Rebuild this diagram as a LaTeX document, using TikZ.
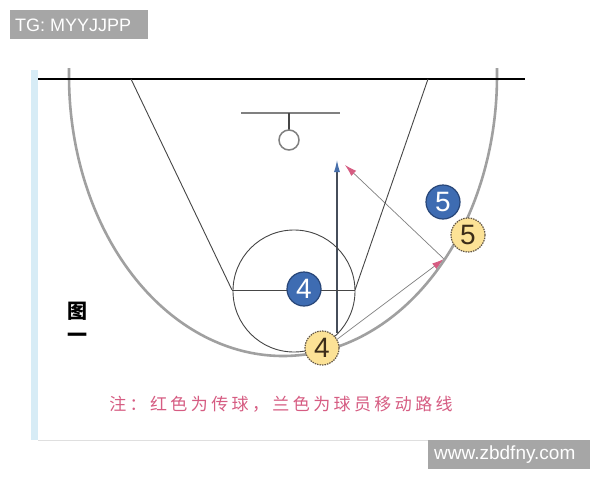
\documentclass[tikz,border=0pt]{standalone}
\usepackage{fontspec}
\setmainfont{Liberation Sans}
\newfontfamily\cjk{Noto Sans CJK SC}
\usetikzlibrary{arrows.meta}
\pgfdeclarelayer{bg}
\pgfdeclarelayer{back}
\pgfsetlayers{bg,back,main}
\definecolor{arcgray}{RGB}{160,160,160}
\definecolor{linegray}{RGB}{70,70,70}
\definecolor{pblue}{RGB}{62,108,178}
\definecolor{pbluedark}{RGB}{40,70,120}
\definecolor{pyellow}{RGB}{252,226,150}
\definecolor{ptext}{RGB}{60,45,25}
\definecolor{pink}{RGB}{214,92,130}
\definecolor{mvblue}{RGB}{70,110,170}
\definecolor{wmgray}{RGB}{166,166,166}
\definecolor{edgeblue}{RGB}{215,236,246}
\begin{document}
\begin{tikzpicture}[x=1pt,y=-1pt,
  court/.style={draw=linegray,line width=0.9pt},
  bluep/.style={circle,fill=pblue,draw=pbluedark,line width=1.2pt,minimum size=34pt,inner sep=0pt,text=white,font=\fontsize{28}{28}\selectfont},
  yelp/.style={circle,fill=pyellow,draw=ptext!80,dashed,dash pattern=on 1.5pt off 1pt,line width=1.2pt,minimum size=34pt,inner sep=0pt,text=ptext,font=\fontsize{28}{28}\selectfont},
  passline/.style={draw=gray,line width=0.7pt,-{Latex[length=12pt,width=7pt,color=pink]}},
  moveline/.style={draw=linegray!80!mvblue,line width=1.1pt,-{Latex[length=12pt,width=6pt,color=mvblue]}},
  wm/.style={fill=wmgray,text=white,inner sep=0pt,font=\fontsize{18}{18}\selectfont}
]
\useasboundingbox (0,0) rectangle (600,480);
\begin{pgfonlayer}{bg}
\fill[white] (0,0) rectangle (600,480);
\end{pgfonlayer}
% frame of the scanned picture
\fill[edgeblue] (31,70) rectangle (38,440);
\draw[gray!25,line width=1pt] (38,440) -- (535,440);
% three point arc
\draw[arcgray,line width=2.6pt] (69,68) -- (69,76)
  plot[domain=180:0,samples=90,smooth] ({283+214*cos(\x)},{76+280*sin(\x)})
  -- (497,68);
% baseline
\draw[black,line width=1.1pt] (38,79) -- (525,79);
% lane
\draw[court] (131,79) -- (232,290);
\draw[court] (428,79) -- (355,290);
\draw[court] (232,290) -- (355,290);
\draw[court] (294,291) circle[radius=61];
% backboard and rim
\draw[gray,line width=2pt] (241,113) -- (340,113);
\draw[linegray,line width=1.2pt] (289,113) -- (289,130);
\draw[gray,line width=1.5pt] (289,140) circle[radius=10];
% players
\node[yelp] (y4) at (322,348) {4};
\node[yelp] (y5) at (468,235) {5};
\node[bluep] (b4) at (304,289) {4};
\node[bluep] (b5) at (443,202) {5};
\coordinate (recv) at (444,259);
\coordinate (passend) at (345,165);
\coordinate (mvstart) at (337,333);
\coordinate (mvend) at (337,160);
\begin{pgfonlayer}{back}
\draw[moveline] (mvstart) -- (mvend);
\draw[passline] (y4.30) -- (recv);
\draw[passline] (recv) -- (passend);
\end{pgfonlayer}
% labels
\node[font=\cjk\bfseries\fontsize{20}{20}\selectfont] (tu) at (77,311) {图};
\node[font=\cjk\bfseries\fontsize{20}{20}\selectfont] (yi) at (77,338) {一};
\node[text=pink,font=\cjk\fontsize{17}{17}\selectfont\addfontfeature{LetterSpace=20}] (note) at (281,404) {注：红色为传球，兰色为球员移动路线};
% watermarks
\node[wm,minimum width=138pt,minimum height=29pt,anchor=north west] (wm1) at (10,10) {};
\node[wm,anchor=west] (wm1t) at (15,25) {TG: MYYJJPP};
\node[wm,minimum width=162pt,minimum height=29pt,anchor=north west] (wm2) at (428,440) {};
\node[wm,anchor=west,font=\fontsize{19}{19}\selectfont] (wm2t) at (434,455) {www.zbdfny.com};
\end{tikzpicture}
\end{document}
